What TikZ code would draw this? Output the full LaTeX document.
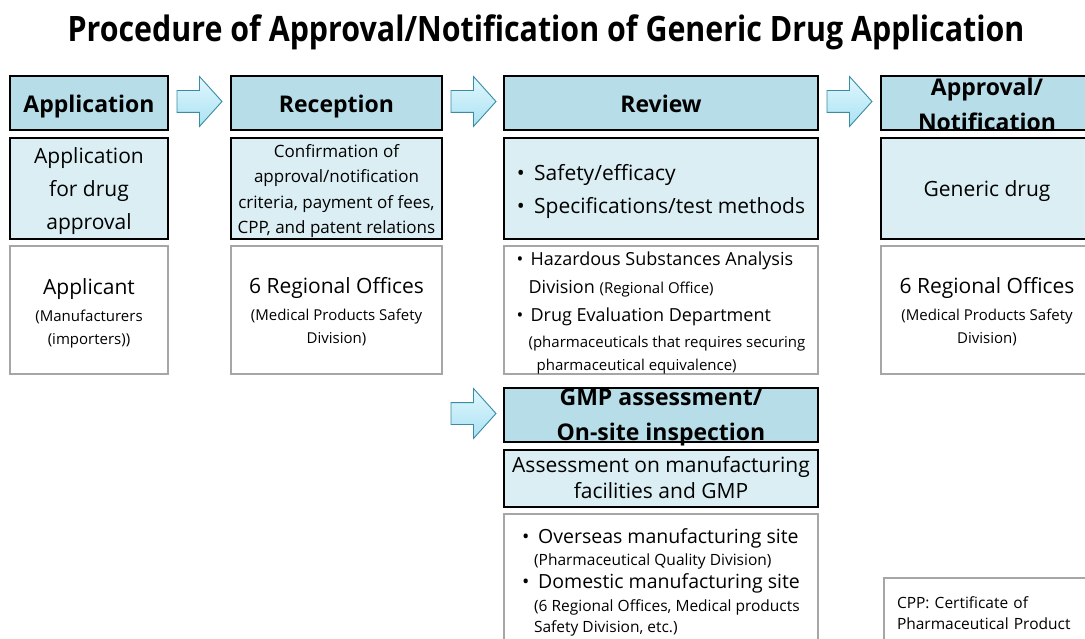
\documentclass[tikz,border=0pt]{standalone}
\usepackage{graphicx}
\usepackage{fontspec}
\setmainfont{Open Sans}
\usetikzlibrary{positioning,calc,shapes.arrows}

\definecolor{headblue}{HTML}{B7DEE8}
\definecolor{infoblue}{HTML}{DAEEF3}
\definecolor{wholine}{HTML}{A6A6A6}
\definecolor{arrowline}{HTML}{3A8CA3}
\definecolor{arrowtop}{HTML}{E2F7FD}
\definecolor{arrowbot}{HTML}{A9E2F3}

% first line a bit taller, so the text sits slightly low in its box
\newcommand{\dropline}[1][6pt]{\rule{0pt}{\dimexpr0.76em+#1\relax}}

\begin{document}
\begin{tikzpicture}[x=1pt, y=-1pt, node distance=8pt,
  every node/.style={outer sep=0pt},
  head/.style={draw, line width=1.4pt, fill=headblue, minimum height=54pt, inner sep=0pt,
    text height=23pt, text depth=3pt, font=\bfseries\fontsize{23}{34}\selectfont},
  headlabel/.style={align=center, yshift=-1pt, font=\bfseries\fontsize{23}{35}\selectfont},
  info/.style={draw, line width=1.4pt, fill=infoblue, minimum height=101pt, inner sep=2pt,
    align=center, font=\fontsize{21}{33}\selectfont},
  who/.style={draw=wholine, line width=1.1pt, fill=white, minimum height=128pt, inner sep=2pt,
    align=center, font=\fontsize{15}{23}\selectfont},
  blockarrow/.style={single arrow, draw=arrowline, line width=0.9pt, top color=arrowtop, bottom color=arrowbot,
    minimum height=45pt, minimum width=49pt, inner xsep=0pt, inner ysep=10.5pt,
    single arrow head extend=14pt, single arrow tip angle=96, anchor=tail}]
  \useasboundingbox (0,0) rectangle (1085,639);
  \clip (0,0) rectangle (1085,639);

  \node[font=\bfseries\fontsize{35}{40}\selectfont] (title) at (546,32)
    {\resizebox{957pt}{\height}{Procedure of Approval/Notification of Generic Drug Application}};

  % header row
  \node[head, minimum width=158pt] (apphead) at (89,103) {Application};
  \node[head, minimum width=211pt, right=63pt of apphead] (rechead) {Reception};
  \node[head, minimum width=314pt, right=62pt of rechead] (revhead) {Review};
  \node[head, minimum width=212pt, right=63pt of revhead,
    label={[headlabel]center:{Approval/\\Notification}}] (apprhead) {};

  % what is done at each stage
  \node[info, minimum width=158pt, below=of apphead] (appinfo) {\dropline Application\\for drug\\approval};
  \node[info, minimum width=211pt, below=of rechead, inner ysep=0pt, font=\fontsize{17}{25.5}\selectfont] (recinfo)
    {\dropline[5pt]Confirmation of\\approval/notification\\criteria, payment of fees,\\CPP, and patent relations};
  \node[info, minimum width=314pt, below=of revhead, align=left] (revinfo)
    {\dropline\textbullet\hspace{0.45em}Safety/efficacy\\\textbullet\hspace{0.45em}Specifications/test methods};
  \node[info, minimum width=212pt, below=of apprhead] (apprinfo) {\dropline Generic drug};

  % who is in charge
  \node[who, minimum width=158pt, below=7pt of appinfo] (appwho)
    {{\fontsize{21}{27}\selectfont\dropline Applicant}\\[4pt](Manufacturers\\(importers))};
  \node[who, minimum width=211pt, below=7pt of recinfo] (recwho)
    {{\fontsize{21}{27}\selectfont\dropline[4pt]6 Regional Offices}\\[4pt](Medical Products Safety\\Division)};
  \node[who, minimum width=314pt, below=7pt of revinfo, align=left, font=\fontsize{18}{28}\selectfont] (revwho)
    {\dropline[2.5pt]\textbullet\hspace{0.4em}Hazardous Substances Analysis\\
     \hspace*{12pt}Division {\fontsize{15}{28}\selectfont(Regional Office)}\\
     \textbullet\hspace{0.4em}Drug Evaluation Department\\[-2pt]
     \hspace*{12pt}{\fontsize{15}{26}\selectfont(pharmaceuticals that requires securing}\\[-5pt]
     \hspace*{20pt}\raisebox{0pt}[\height][0pt]{\fontsize{15}{23}\selectfont pharmaceutical equivalence)}};
  \node[who, minimum width=212pt, below=7pt of apprinfo] (apprwho)
    {{\fontsize{21}{27}\selectfont\dropline[4pt]6 Regional Offices}\\[4pt](Medical Products Safety\\Division)};

  % GMP branch under the review column
  \node[head, minimum width=314pt, below=14pt of revwho,
    label={[headlabel, yshift=-1pt]center:{GMP assessment/\\On-site inspection}}] (gmphead) {};
  \node[info, minimum width=314pt, minimum height=57pt, below=of gmphead, font=\fontsize{21}{26}\selectfont] (gmpinfo)
    {\dropline[4pt]Assessment on manufacturing\\facilities and GMP\rule[-0.24em]{0pt}{0pt}};
  \node[who, minimum width=314pt, minimum height=136pt, below=7pt of gmpinfo, align=left, font=\fontsize{19.5}{22}\selectfont] (gmpwho)
    {\textbullet\hspace{0.45em}Overseas manufacturing site\\
     \hspace*{12pt}{\fontsize{15.5}{22}\selectfont(Pharmaceutical Quality Division)}\\[1pt]
     \textbullet\hspace{0.45em}Domestic manufacturing site\\[1pt]
     \hspace*{12pt}{\fontsize{15.5}{23}\selectfont(6 Regional Offices, Medical products}\\[-1pt]
     \hspace*{12pt}{\fontsize{15.5}{21}\selectfont Safety Division, etc.)}};

  % block arrows between stages
  \node[blockarrow] (go1) at ([xshift=9pt, yshift=1.5pt]apphead.east) {};
  \node[blockarrow] (go2) at ([xshift=9pt, yshift=1.5pt]rechead.east) {};
  \node[blockarrow] (go3) at ([xshift=9pt, yshift=1.5pt]revhead.east) {};
  \node[blockarrow] (go4) at ([xshift=9pt, yshift=1.5pt]rechead.east |- gmphead) {};

  % abbreviation note
  \node[draw=wholine, line width=1.1pt, anchor=north west, minimum width=216pt, minimum height=70pt,
    text width=190pt, align=left, inner xsep=12pt, font=\fontsize{15.5}{21}\selectfont] (cppnote) at (884,578)
    {CPP: Certificate of\\Pharmaceutical Product};
\end{tikzpicture}
\end{document}
